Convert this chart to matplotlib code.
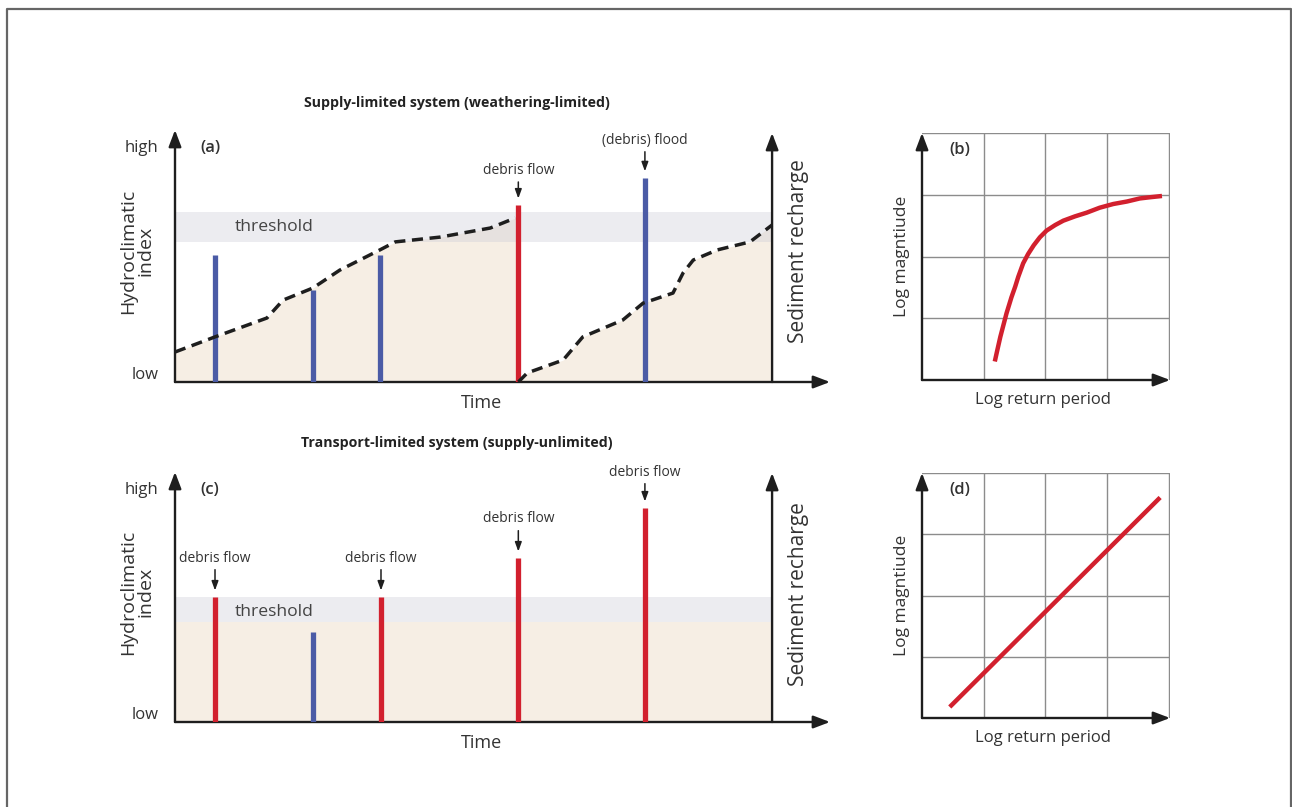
import numpy as np
import matplotlib
matplotlib.use("Agg")
import matplotlib.pyplot as plt
from matplotlib.lines import Line2D

plt.rcParams['font.family'] = ['Open Sans', 'DejaVu Sans']

# ---- data ----
# (a) supply-limited: event times, peaks and kind
events_a_t = [6.7, 23.1, 34.3, 57.5, 78.7]
events_a_h = [50.4, 36.5, 50.4, 70.2, 81.0]
events_a_kind = ['flood', 'flood', 'flood', 'flow', 'flood']
thresh_a = (55.6, 67.5)

# sediment recharge (dashed), before and after the debris flow
rech1_t = [0, 6.7, 15.4, 18.1, 23.1, 27.6, 34.3, 36.9, 44.4, 52.8, 57.0, 57.5]
rech1_v = [11.9, 17.9, 25.4, 32.5, 37.3, 44.4, 52.4, 55.6, 57.5, 61.1, 65.1, 66.0]
rech2_t = [57.5, 59.0, 65.0, 68.3, 75.0, 78.4, 83.4, 85.1, 86.8, 90.8, 96.3, 100]
rech2_v = [0, 3.6, 8.7, 17.9, 24.6, 31.3, 35.3, 43.3, 48.4, 52.4, 55.6, 62.3]

# (c) transport-limited
events_c_t = [6.7, 23.1, 34.5, 57.5, 78.7]
events_c_h = [50.0, 36.0, 50.0, 65.6, 85.6]
events_c_kind = ['flow', 'flood', 'flow', 'flow', 'flow']
thresh_c = (40.0, 50.0)
recharge_c = 40.0

# labels above events: (event index, text, label height)
labels_a = [(3, 'debris flow', 84), (4, '(debris) flood', 96)]
labels_c = [(0, 'debris flow', 65.6), (2, 'debris flow', 65.6),
            (3, 'debris flow', 81.2), (4, 'debris flow', 100)]

# (b) magnitude-frequency, supply-limited
mf_b_x = [1.18, 1.22, 1.27, 1.37, 1.45, 1.51, 1.56, 1.64, 1.72, 1.81, 1.91, 2.02,
          2.16, 2.29, 2.48, 2.67, 2.88, 3.10, 3.32, 3.53, 3.70, 3.89]
mf_b_y = [0.30, 0.48, 0.70, 1.08, 1.34, 1.51, 1.67, 1.89, 2.04, 2.18, 2.31, 2.42,
          2.51, 2.58, 2.65, 2.71, 2.79, 2.85, 2.89, 2.94, 2.96, 2.98]
# (d) magnitude-frequency, transport-limited
mf_d_x = [0.45, 3.86]
mf_d_y = [0.18, 3.60]

RED = '#d2202e'
BLUE = '#4b5ba6'
BEIGE = '#f6eee4'
BAND = '#c9c9d6'
INK = '#1e1e1e'
TXT = '#333333'
kind_color = {'flood': BLUE, 'flow': RED}

W, H = 1292, 807
fig = plt.figure(figsize=(W / 100, H / 100), dpi=100)


def px_axes(left, right, bottom, top):
    return fig.add_axes([left / W, (H - bottom) / H, (right - left) / W, (bottom - top) / H])


def arrow(ax, x0, y0, x1, y1, lw=1.7):
    ax.annotate('', xy=(x1, y1), xytext=(x0, y0),
                arrowprops=dict(arrowstyle='-|>,head_width=0.38,head_length=1.0',
                                lw=lw, color=INK, shrinkA=0, shrinkB=0),
                annotation_clip=False)


def time_panel(ax, letter, yaxis_top, sed_y):
    ax.set_xlim(0, 109.7)
    ax.set_ylim(0, 100)
    ax.axis('off')
    arrow(ax, 0, 0, 0, 100)
    arrow(ax, 0, 0, 109.7, 0)
    arrow(ax, 100, 0, 100, yaxis_top)
    ax.text(-2.8, 93, 'high', ha='right', va='center', fontsize=12, color=TXT)
    ax.text(-2.8, 2.8, 'low', ha='right', va='center', fontsize=12, color=TXT)
    ax.text(4.2, 93, letter, ha='left', va='center', fontsize=12, color=TXT, fontweight='semibold')
    ax.text(51.4, -8.2, 'Time', ha='center', va='center', fontsize=13, color=TXT)
    ax.text(-6.4, 52, 'Hydroclimatic\nindex', ha='center', va='center', rotation=90,
            fontsize=14, color=TXT, linespacing=0.95)
    ax.text(104.4, sed_y, 'Sediment recharge', ha='center', va='center', rotation=90,
            fontsize=15, color=TXT)


def events(ax, t, h, kinds, labels):
    ax.vlines(t, 0, h, colors=[kind_color[k] for k in kinds], lw=3.8, zorder=4)
    for i, s, ly in labels:
        ax.annotate(s, xy=(t[i], h[i] + 2.6), xytext=(t[i], ly), ha='center', va='center',
                    fontsize=10, color=TXT, annotation_clip=False,
                    arrowprops=dict(arrowstyle='-|>,head_width=0.2,head_length=0.55',
                                    lw=1.1, color=INK, shrinkA=1, shrinkB=0))


# ---- panel (a) ----
ax_a = px_axes(175, 830, 382, 130)
time_panel(ax_a, '(a)', 98.8, 52)
ax_a.fill_between(rech1_t, rech1_v, color=BEIGE, lw=0, zorder=1)
ax_a.fill_between(rech2_t, rech2_v, color=BEIGE, lw=0, zorder=1)
ax_a.fill_between([0, 100], thresh_a[0], thresh_a[1], color=BAND, alpha=0.35, lw=0, zorder=2)
ax_a.text(10.0, 61.5, 'threshold', ha='left', va='center', fontsize=12.6, color='#444444', zorder=3)
ax_a.plot(rech1_t[:-1], rech1_v[:-1], color=INK, lw=2.5, ls=(0, (3.2, 1.9)), zorder=5)
ax_a.plot(rech2_t, rech2_v, color=INK, lw=2.5, ls=(0, (3.2, 1.9)), zorder=5)
events(ax_a, events_a_t, events_a_h, events_a_kind, labels_a)

# ---- panel (c) ----
ax_c = px_axes(175, 830, 722, 472)
time_panel(ax_c, '(c)', 99.6, 51)
ax_c.fill_between([0, 100], 0, recharge_c, color=BEIGE, lw=0, zorder=1)
ax_c.fill_between([0, 100], thresh_c[0], thresh_c[1], color=BAND, alpha=0.35, lw=0, zorder=2)
ax_c.text(10.0, 44, 'threshold', ha='left', va='center', fontsize=12.6, color='#444444', zorder=3)
events(ax_c, events_c_t, events_c_h, events_c_kind, labels_c)


# ---- panels (b) and (d) ----
def mf_panel(ax, letter, x, y):
    ax.set_xlim(0, 4.02)
    ax.set_ylim(0, 4.0)
    ax.axis('off')
    for g in range(1, 5):
        ax.plot([g, g], [0, 4], color='#8c8c8c', lw=1.0, zorder=1)
        ax.plot([0, 4], [g, g], color='#8c8c8c', lw=1.0, zorder=1)
    arrow(ax, 0, 0, 0, 4.0)
    arrow(ax, 0, 0, 4.02, 0)
    ax.plot(x, y, color=RED, lw=3.2, solid_capstyle='butt', solid_joinstyle='round', zorder=3)
    ax.text(0.45, 3.72, letter, ha='left', va='center', fontsize=12, color=TXT, fontweight='semibold')
    ax.text(-0.33, 2.0, 'Log magntiude', ha='center', va='center', rotation=90, fontsize=12.5, color=TXT)
    ax.text(1.96, -0.32, 'Log return period', ha='center', va='center', fontsize=12, color=TXT)


ax_b = px_axes(922, 1170, 380, 133)
mf_panel(ax_b, '(b)', mf_b_x, mf_b_y)
ax_d = px_axes(922, 1170, 718, 473)
mf_panel(ax_d, '(d)', mf_d_x, mf_d_y)

# titles
fig.text(457 / W, 1 - 103 / H, 'Supply-limited system (weathering-limited)', ha='center', va='center',
         fontsize=10.2, fontweight='bold', color='#222222')
fig.text(457 / W, 1 - 443 / H, 'Transport-limited system (supply-unlimited)', ha='center', va='center',
         fontsize=10.2, fontweight='bold', color='#222222')

# frame around the figure (open at the bottom)
fx0, fx1, fy1 = 6.5 / W, 1290.5 / W, 1 - 8.5 / H
fig.add_artist(Line2D([fx0, fx0, fx1, fx1], [0, fy1, fy1, 0], color='#666666', lw=1.6))

fig.savefig('out.png', dpi=100)
